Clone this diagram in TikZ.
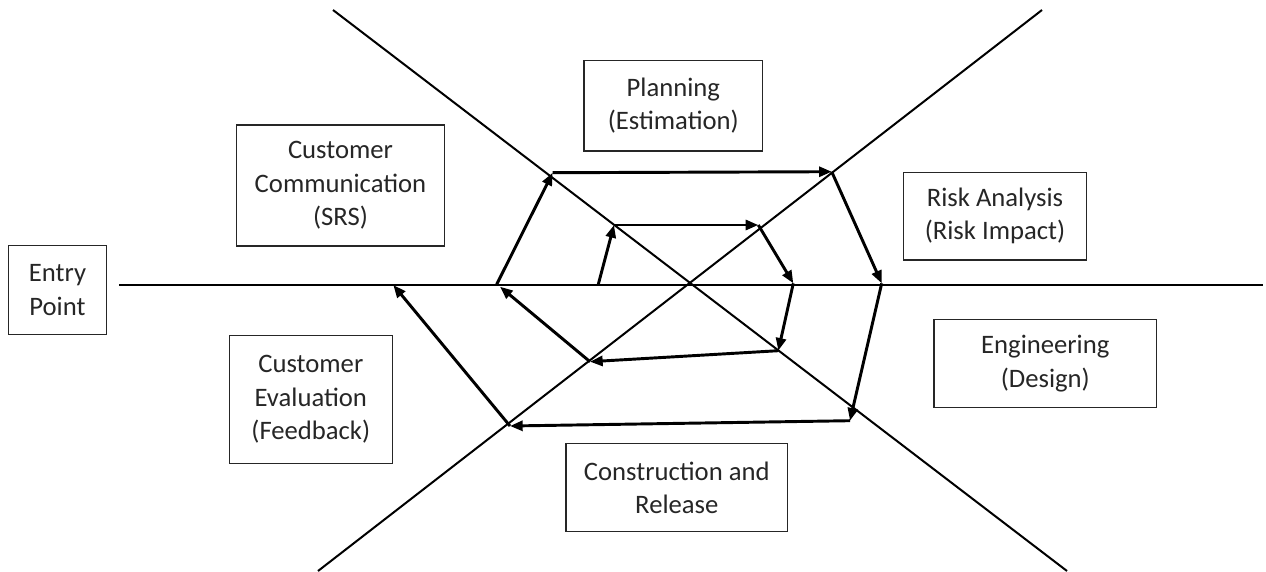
\documentclass[tikz,border=0pt]{standalone}
\usepackage{fontspec}
\setmainfont{Carlito}
\usetikzlibrary{arrows.meta}
\begin{document}
\begin{tikzpicture}[x=0.75pt,y=-0.75pt,
  axisline/.style={line width=1.5pt, black},
  flow/.style={line width=2.2pt, -{Triangle[length=9.5pt,width=7.5pt]}},
  box/.style={draw=black!85, line width=1pt, align=center, inner sep=0pt,
    font=\fontsize{20}{25}\selectfont, text=black!85}]
\useasboundingbox (0,0) rectangle (1266,571);

% axes
\coordinate (hL) at (119,285);
\coordinate (hR) at (1263,285);
\coordinate (d1a) at (333,10);
\coordinate (d1b) at (1067,571);
\coordinate (d2a) at (318,571);
\coordinate (d2b) at (1042,10);
\draw[axisline] (hL) -- (hR);
\draw[axisline] (d1a) -- (d1b);
\draw[axisline] (d2a) -- (d2b);

% boxes
\node[box, minimum width=73.8pt, minimum height=66.4pt] (entry) at (57.5,290) {Entry\\Point};
\node[box, minimum width=155.7pt, minimum height=90.75pt] (comm) at (340.5,185.5) {Customer\\Communication\\(SRS)};
\node[box, minimum width=122.25pt, minimum height=95.7pt] (eval) at (310.8,399.5) {Customer\\Evaluation\\(Feedback)};
\node[box, minimum width=134pt, minimum height=67.7pt] (plan) at (673.3,105.8) {Planning\\(Estimation)};
\node[box, minimum width=166.3pt, minimum height=66.3pt] (constr) at (676.8,487.5) {Construction and\\Release};
\node[box, minimum width=137.6pt, minimum height=65.8pt] (risk) at (995,216.2) {Risk Analysis\\(Risk Impact)};
\node[box, minimum width=167pt, minimum height=66.3pt] (eng) at (1045.3,363.5) {Engineering\\(Design)};

% outer loop
\coordinate (o0) at (496.7,284.3);
\coordinate (o1) at (552.7,172.7);
\coordinate (o2) at (831.7,171.7);
\coordinate (o3) at (881.7,283.3);
\coordinate (o4) at (850,420.7);
\coordinate (o5) at (510,426);
\coordinate (o6) at (393.3,285);
\draw[flow] (o0) -- (o1);
\draw[flow] (o1) -- (o2);
\draw[flow] (o2) -- (o3);
\draw[flow] (o3) -- (o4);
\draw[flow] (o4) -- (o5);
\draw[flow] (o5) -- (o6);

% inner loop
\coordinate (i0) at (598.3,284.3);
\coordinate (i1) at (614,225);
\coordinate (i2) at (758.3,225);
\coordinate (i3) at (793.3,283.3);
\coordinate (i4) at (778.3,350.7);
\coordinate (i5) at (590,361.7);
\coordinate (i6) at (500,286.7);
\draw[flow] (i0) -- (i1);
\draw[flow] (i1) -- (i2);
\draw[flow] (i2) -- (i3);
\draw[flow] (i3) -- (i4);
\draw[flow] (i4) -- (i5);
\draw[flow] (i5) -- (i6);
\end{tikzpicture}
\end{document}
